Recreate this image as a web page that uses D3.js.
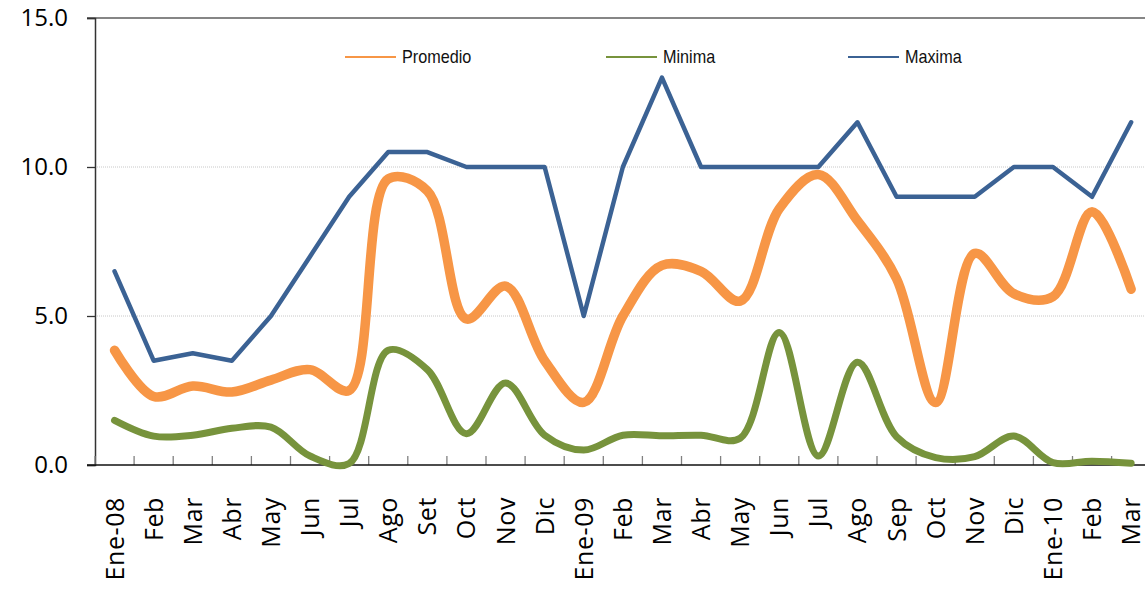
<!DOCTYPE html>
<html>
<head>
<meta charset="utf-8">
<script src="https://cdn.jsdelivr.net/npm/d3@7"></script>
<style>
  html, body { margin: 0; padding: 0; background: #fff; }
  svg { display: block; }
</style>
</head>
<body>
<svg id="chart" width="1145" height="592"></svg>
<script>
// ---- Data ----
const categories = ["Ene-08","Feb","Mar","Abr","May","Jun","Jul","Ago","Set","Oct","Nov","Dic",
                    "Ene-09","Feb","Mar","Abr","May","Jun","Jul","Ago","Sep","Oct","Nov","Dic",
                    "Ene-10","Feb","Mar"];
const promedio = [3.85, 2.3, 2.65, 2.45, 2.85, 3.2, 2.5, 9.6, 9.2, 4.9, 6.0, 3.5,
                  2.1, 5.0, 6.7, 6.5, 5.5, 8.6, 9.75, 8.2, 6.25, 2.1, 7.1, 5.75,
                  5.65, 8.5, 5.9];
const minima   = [1.5, 0.97, 1.0, 1.23, 1.27, 0.3, 0.05, 3.85, 3.2, 1.05, 2.75, 1.0,
                  0.5, 1.0, 0.98, 1.0, 0.9, 4.45, 0.3, 3.45, 0.95, 0.25, 0.28, 0.97,
                  0.08, 0.13, 0.06];
const maxima   = [6.5, 3.5, 3.75, 3.5, 5.0, 7.0, 9.0, 10.5, 10.5, 10.0, 10.0, 10.0,
                  5.0, 10.0, 13.0, 10.0, 10.0, 10.0, 10.0, 11.5, 9.0, 9.0, 9.0, 10.0,
                  10.0, 9.0, 11.5];
const seriesNames = ["Promedio", "Minima", "Maxima"];
const yTicks = [0, 5, 10, 15];

(function () {
// ---- Layout ----
const pLeft = 95, pTop = 18, pBottom = 465, step = 39.1;
const pRight = pLeft + step * categories.length;

const svg = d3.select("#chart");
const x = d3.scaleBand().domain(d3.range(categories.length)).range([pLeft, pRight]).padding(0);
const y = d3.scaleLinear().domain([0, 15]).range([pBottom, pTop]);

// gridlines at 5 and 10 (dotted, light)
svg.append("g").selectAll("line")
  .data(yTicks.filter(d => d > 0 && d < 15))
  .join("line")
  .attr("x1", pLeft).attr("x2", pRight)
  .attr("y1", d => y(d)).attr("y2", d => y(d))
  .attr("stroke", "#c8c8c8").attr("stroke-width", 1)
  .attr("stroke-dasharray", "1,1");

// top line at 15
svg.append("line")
  .attr("x1", pLeft - 8).attr("x2", pRight)
  .attr("y1", y(15)).attr("y2", y(15))
  .attr("stroke", "#868686").attr("stroke-width", 2);

// Y axis
const yAxis = svg.append("g")
  .attr("transform", `translate(${pLeft},0)`)
  .call(d3.axisLeft(y).tickValues(yTicks).tickFormat(d3.format(".1f")).tickSize(8).tickPadding(19));
yAxis.select(".domain").attr("stroke", "#333").attr("stroke-width", 1.5);
yAxis.selectAll(".tick line").attr("stroke", "#333").attr("stroke-width", 1.3);
yAxis.selectAll(".tick text")
  .attr("font-family", "'Open Sans', sans-serif")
  .attr("font-size", 24)
  .attr("fill", "#000");

// X axis
const xAxis = svg.append("g")
  .attr("transform", `translate(0,${pBottom})`)
  .call(d3.axisBottom(x).tickSize(0).tickFormat(i => categories[i]));
xAxis.select(".domain").remove();
xAxis.selectAll(".tick text")
  .attr("font-family", "'Open Sans', sans-serif")
  .attr("font-size", 25)
  .attr("letter-spacing", 0.6)
  .attr("fill", "#000")
  .attr("text-anchor", "end")
  .attr("transform", "rotate(-90)")
  .attr("x", -32)
  .attr("y", 0)
  .attr("dy", "0.36em");

// category boundary tick marks (inside, upward)
svg.append("g").selectAll("line")
  .data(d3.range(categories.length + 1))
  .join("line")
  .attr("x1", i => pLeft + i * x.step()).attr("x2", i => pLeft + i * x.step())
  .attr("y1", pBottom).attr("y2", pBottom - 9)
  .attr("stroke", "#808080").attr("stroke-width", 1.3);

// bottom axis line
svg.append("line")
  .attr("x1", pLeft - 8).attr("x2", pRight)
  .attr("y1", pBottom).attr("y2", pBottom)
  .attr("stroke", "#111").attr("stroke-width", 1.5);

// ---- Series ----
const cx = i => x(i) + x.bandwidth() / 2;
const smooth = d3.line().x((d, i) => cx(i)).y(d => y(d)).curve(d3.curveCatmullRom.alpha(0.5));
const straight = d3.line().x((d, i) => cx(i)).y(d => y(d)).curve(d3.curveLinear);

const series = [
  { name: seriesNames[0], values: promedio, color: "#F79646", width: 9.5, gen: smooth },
  { name: seriesNames[1], values: minima,   color: "#77933C", width: 7,   gen: smooth },
  { name: seriesNames[2], values: maxima,   color: "#3B6294", width: 4.5, gen: straight }
];

svg.append("g").selectAll("path")
  .data(series)
  .join("path")
  .attr("d", s => s.gen(s.values))
  .attr("fill", "none")
  .attr("stroke", s => s.color)
  .attr("stroke-width", s => s.width)
  .attr("stroke-linecap", "round")
  .attr("stroke-linejoin", "round");

// ---- Legend ----
const legendX = [345, 606, 848];
const legendY = 57;
const lg = svg.append("g").selectAll("g")
  .data(series)
  .join("g")
  .attr("transform", (s, i) => `translate(${legendX[i]},${legendY})`);
lg.append("line")
  .attr("x1", 0).attr("x2", 51).attr("y1", 0).attr("y2", 0)
  .attr("stroke", s => s.color).attr("stroke-width", 2);
lg.append("text")
  .attr("transform", "translate(57,0) scale(0.9,1)")
  .attr("dy", "0.36em")
  .attr("font-family", "'Liberation Sans', Arial, sans-serif")
  .attr("font-size", 18)
  .attr("fill", "#111")
  .text(s => s.name);
})();
</script>
</body>
</html>
